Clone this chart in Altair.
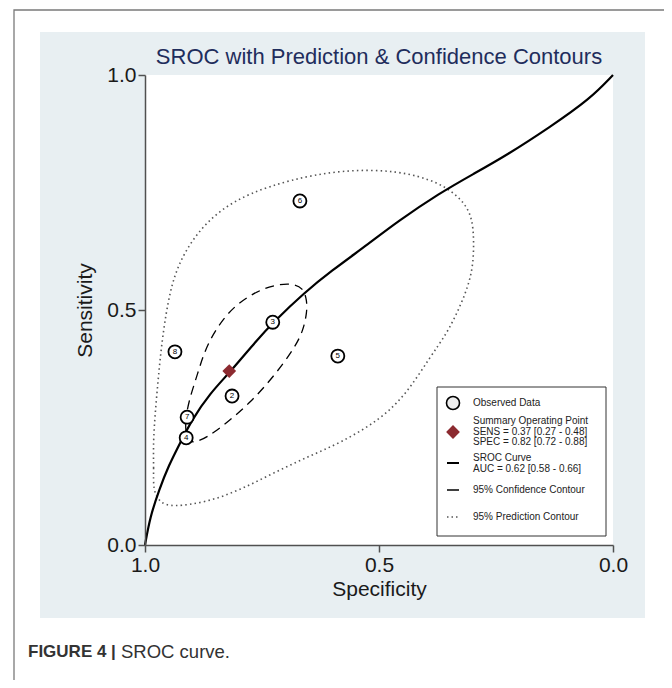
import altair as alt
import pandas as pd

# ---------------- data ----------------
study_ids = ["2", "3", "4", "5", "6", "7", "8"]
study_spec = [0.814, 0.727, 0.912, 0.588, 0.669, 0.910, 0.936]
study_sens = [0.317, 0.474, 0.228, 0.402, 0.732, 0.272, 0.411]

summary_spec = [0.82]
summary_sens = [0.37]

sroc_spec = [1.000, 0.989, 0.970, 0.949, 0.925, 0.900, 0.861, 0.818, 0.761, 0.726,
             0.658, 0.605, 0.519, 0.462, 0.370, 0.299, 0.226, 0.135, 0.049, 0.000]
sroc_sens = [0.000, 0.060, 0.117, 0.170, 0.217, 0.266, 0.323, 0.368, 0.436, 0.474,
             0.538, 0.581, 0.643, 0.687, 0.749, 0.789, 0.830, 0.889, 0.949, 1.000]

conf_spec = [0.910, 0.915, 0.908, 0.887, 0.872, 0.846, 0.812, 0.769, 0.726, 0.686,
             0.662, 0.654, 0.654, 0.662, 0.679, 0.726, 0.776, 0.825, 0.868, 0.897]
conf_sens = [0.223, 0.255, 0.302, 0.366, 0.415, 0.464, 0.506, 0.536, 0.553, 0.557,
             0.547, 0.521, 0.494, 0.457, 0.421, 0.357, 0.302, 0.260, 0.228, 0.217]

pred_spec = [0.983, 0.981, 0.983, 0.974, 0.964, 0.947, 0.925, 0.889, 0.840, 0.776,
             0.690, 0.583, 0.462, 0.370, 0.321, 0.301, 0.297, 0.299, 0.312, 0.333,
             0.357, 0.391, 0.440, 0.498, 0.583, 0.654, 0.726, 0.797, 0.868, 0.940, 0.968]
pred_sens = [0.117, 0.160, 0.223, 0.330, 0.436, 0.543, 0.606, 0.664, 0.713, 0.749,
             0.777, 0.798, 0.798, 0.772, 0.734, 0.698, 0.649, 0.591, 0.543, 0.494,
             0.447, 0.400, 0.323, 0.266, 0.217, 0.187, 0.153, 0.117, 0.091, 0.081, 0.089]

axis_ticks = [0.0, 0.5, 1.0]
title_text = "SROC with Prediction & Confidence Contours"
x_title = "Specificity"
y_title = "Sensitivity"
legend_labels = ["Observed Data",
                 "Summary Operating Point", "SENS = 0.37 [0.27 - 0.48]", "SPEC = 0.82 [0.72 - 0.88]",
                 "SROC Curve", "AUC = 0.62 [0.58 - 0.66]",
                 "95% Confidence Contour",
                 "95% Prediction Contour"]
caption_bold = "FIGURE 4 |"
caption_text = "SROC curve."

# ---------------- tables ----------------
obs_df = pd.DataFrame({"id": study_ids, "spec": study_spec, "sens": study_sens})
sum_df = pd.DataFrame({"spec": summary_spec, "sens": summary_sens})
sroc_df = pd.DataFrame({"spec": sroc_spec, "sens": sroc_sens, "i": range(len(sroc_spec))})
conf_df = pd.DataFrame({"spec": conf_spec, "sens": conf_sens, "i": range(len(conf_spec))})
pred_df = pd.DataFrame({"spec": pred_spec, "sens": pred_sens, "i": range(len(pred_spec))})
dummy = pd.DataFrame({"a": [0]})

FONT = "Liberation Sans"
AX = "#505050"
W, H = 468, 470

x_axis = alt.Axis(values=axis_ticks, format=".1f", title=x_title, grid=False,
                  domainColor=AX, domainWidth=1.5, tickColor=AX, tickWidth=1.5, tickSize=7,
                  labelFontSize=21, labelColor="#1a1a1a", labelFont=FONT, labelPadding=2,
                  labelFlush=False, labelOverlap=False,
                  titleFontSize=21, titleFontWeight="normal", titleFont=FONT,
                  titleColor="#1a1a1a", titlePadding=3, zindex=1)
y_axis = alt.Axis(values=axis_ticks, format=".1f", title=y_title, grid=False,
                  domainColor=AX, domainWidth=1.5, tickColor=AX, tickWidth=1.5, tickSize=7,
                  labelFontSize=21, labelColor="#1a1a1a", labelFont=FONT, labelPadding=2,
                  labelFlush=False, labelOverlap=False,
                  titleFontSize=21, titleFontWeight="normal", titleFont=FONT,
                  titleColor="#1a1a1a", titlePadding=11, zindex=1)

X = alt.X("spec:Q", scale=alt.Scale(domain=[0, 1], reverse=True, nice=False, zero=False), axis=x_axis)
Y = alt.Y("sens:Q", scale=alt.Scale(domain=[0, 1], nice=False, zero=False), axis=y_axis)


def rect(x, y, x2, y2, **kw):
    return alt.Chart(dummy).mark_rect(**kw).encode(
        x=alt.value(x), x2=alt.value(x2), y=alt.value(y), y2=alt.value(y2))


def text(x, y, s, **kw):
    return alt.Chart(dummy).mark_text(**kw).encode(
        x=alt.value(x), y=alt.value(y), text=alt.value(s))


def rule(x, x2, y, **kw):
    return alt.Chart(dummy).mark_rule(**kw).encode(
        x=alt.value(x), x2=alt.value(x2), y=alt.value(y))


layers = []
# figure frame, grey panel, white plot region
layers.append(rect(-131, -65, 720, 800, fill="white", stroke="#7a7a7a", strokeWidth=1.3))
layers.append(rect(-105, -43, 500, 543, fill="#e8eff2"))
layers.append(rect(0, 0, W, H, fill="white"))

# contours and curve
layers.append(alt.Chart(pred_df).mark_line(interpolate="basis-closed", color="#555555",
                                           strokeWidth=1.6, strokeDash=[1.5, 3.2]).encode(
    x=X, y=Y, order="i:Q"))
layers.append(alt.Chart(conf_df).mark_line(interpolate="basis-closed", color="black",
                                           strokeWidth=1.3, strokeDash=[9, 6]).encode(
    x=X, y=Y, order="i:Q"))
layers.append(alt.Chart(sroc_df).mark_line(interpolate="basis", color="black",
                                           strokeWidth=2.2).encode(
    x=X, y=Y, order="i:Q"))

# observed studies
layers.append(alt.Chart(obs_df).mark_point(shape="circle", filled=True, fill="white", stroke="black",
                                           strokeWidth=1.8, size=170, opacity=1).encode(x=X, y=Y))
layers.append(alt.Chart(obs_df).mark_text(fontSize=8, color="black", font=FONT,
                                          baseline="middle", align="center").encode(
    x=X, y=Y, text="id:N"))
# summary operating point
layers.append(alt.Chart(sum_df).mark_point(shape="diamond", filled=True, color="#8c2a30",
                                           size=190, opacity=1).encode(x=X, y=Y))

# legend
LX0, LY0, LX1, LY1 = 292, 312, 461, 461
layers.append(rect(LX0, LY0, LX1, LY1, fill="white", stroke="#333333", strokeWidth=1))
sym_x = 308
txt_x = 328
layers.append(alt.Chart(dummy).mark_point(shape="circle", filled=True, fill="#eeeeee", stroke="black",
                                          strokeWidth=1.6, size=170, opacity=1).encode(
    x=alt.value(sym_x), y=alt.value(328)))
layers.append(alt.Chart(dummy).mark_point(shape="diamond", filled=True, color="#8c2a30",
                                          size=190, opacity=1).encode(
    x=alt.value(sym_x), y=alt.value(357)))
layers.append(rule(302, 314, 388, color="black", strokeWidth=2))
layers.append(rule(302, 314, 415, color="black", strokeWidth=1.5))
layers.append(rule(302, 315, 442, color="#555555", strokeWidth=1.4, strokeDash=[1.5, 3]))
legend_y = [328, 346, 356.5, 367, 383, 394, 415, 442]
for lab, ly in zip(legend_labels, legend_y):
    layers.append(text(txt_x, ly, lab, fontSize=10, font=FONT, color="#222222",
                       align="left", baseline="middle"))

# title and caption
layers.append(text(W / 2, -18, title_text, fontSize=22, font=FONT, color="#1f2d5c",
                   align="center", baseline="middle"))
layers.append(text(-117, 577, caption_bold, fontSize=17, font=FONT,
                   fontWeight="bold", color="#333333", align="left", baseline="middle"))
layers.append(text(-24, 577, caption_text, fontSize=18.5, font=FONT,
                   color="#333333", align="left", baseline="middle"))

chart = alt.layer(*layers).properties(
    width=W, height=H,
    autosize=alt.AutoSizeParams(type="none"),
    padding={"left": 137, "top": 67, "right": 51, "bottom": 135},
    background="white",
).configure_view(stroke="transparent").configure(font=FONT)

chart.save("out.html", embed_options={"renderer": "svg", "actions": False})
